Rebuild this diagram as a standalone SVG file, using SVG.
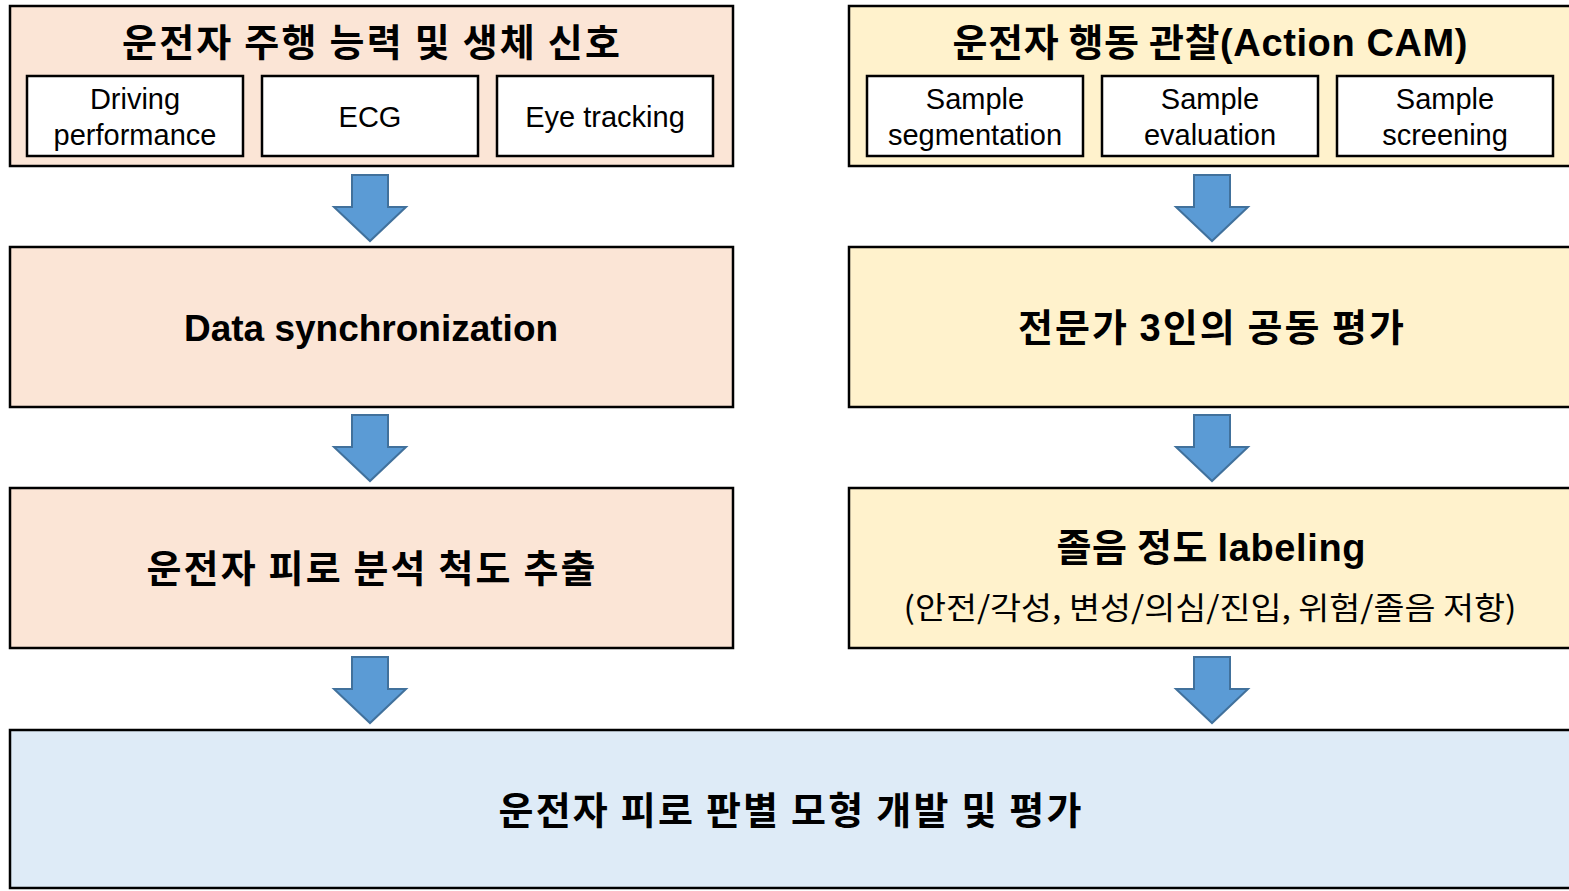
<svg xmlns="http://www.w3.org/2000/svg" width="1569" height="891" viewBox="0 0 1569 891">
<defs>
<style>
.box{stroke:#000;stroke-width:2.5}
.peach{fill:#FBE5D6}
.yellow{fill:#FFF2CC}
.blue{fill:#DEEBF7}
.inner{fill:#fff;stroke:#000;stroke-width:2.5}
.kt{font-family:"Noto Sans CJK KR","Liberation Sans",sans-serif;font-weight:bold;fill:#000;text-anchor:middle}
.kn{font-family:"Noto Sans CJK KR","Liberation Sans",sans-serif;font-weight:normal;fill:#000;text-anchor:middle}
.et{font-family:"Liberation Sans",Arial,sans-serif;fill:#000;text-anchor:middle}
.eb{font-family:"Liberation Sans",Arial,sans-serif;font-weight:bold;fill:#000;text-anchor:middle}
.lat{font-family:"Liberation Sans",Arial,sans-serif}
.arrow{fill:#5B9BD5;stroke:#41719C;stroke-width:2}
</style>
<path id="arr" d="M-18,0 H18 V32 H36 L0,66 L-36,32 H-18 Z"/>
</defs>
<rect width="1569" height="891" fill="#fff"/>

<g id="node-left-top">
<rect class="box peach" x="10" y="6" width="723" height="160"/>
<text class="kt" x="371" y="56" font-size="38" textLength="498" lengthAdjust="spacing">운전자 주행 능력 및 생체 신호</text>
<rect class="inner" x="27" y="76" width="216" height="80"/>
<text class="et" x="135" y="109" font-size="29">Driving</text>
<text class="et" x="135" y="145" font-size="29">performance</text>
<rect class="inner" x="262" y="76" width="216" height="80"/>
<text class="et" x="370" y="127" font-size="29">ECG</text>
<rect class="inner" x="497" y="76" width="216" height="80"/>
<text class="et" x="605" y="127" font-size="29">Eye tracking</text>
</g>

<g id="node-right-top">
<rect class="box yellow" x="849" y="6" width="725" height="160"/>
<text class="kt" x="1210" y="56" font-size="38" textLength="515" lengthAdjust="spacing">운전자 행동 관찰<tspan class="lat">(Action CAM)</tspan></text>
<rect class="inner" x="867" y="76" width="216" height="80"/>
<text class="et" x="975" y="109" font-size="29">Sample</text>
<text class="et" x="975" y="145" font-size="29">segmentation</text>
<rect class="inner" x="1102" y="76" width="216" height="80"/>
<text class="et" x="1210" y="109" font-size="29">Sample</text>
<text class="et" x="1210" y="145" font-size="29">evaluation</text>
<rect class="inner" x="1337" y="76" width="216" height="80"/>
<text class="et" x="1445" y="109" font-size="29">Sample</text>
<text class="et" x="1445" y="145" font-size="29">screening</text>
</g>

<g id="node-data-sync">
<rect class="box peach" x="10" y="247" width="723" height="160"/>
<text class="eb" x="371" y="341" font-size="37">Data synchronization</text>
</g>

<g id="node-expert">
<rect class="box yellow" x="849" y="247" width="725" height="160"/>
<text class="kt" x="1211" y="341" font-size="38" textLength="386" lengthAdjust="spacing">전문가 <tspan class="lat">3</tspan>인의 공동 평가</text>
</g>

<g id="node-fatigue-metric">
<rect class="box peach" x="10" y="488" width="723" height="160"/>
<text class="kt" x="371" y="582" font-size="38" textLength="449" lengthAdjust="spacing">운전자 피로 분석 척도 추출</text>
</g>

<g id="node-labeling">
<rect class="box yellow" x="849" y="488" width="725" height="160"/>
<text class="kt" x="1211" y="561" font-size="38" textLength="309" lengthAdjust="spacing">졸음 정도 <tspan class="lat">labeling</tspan></text>
<text class="kn" x="1210" y="619" font-size="31" textLength="613" lengthAdjust="spacingAndGlyphs">(안전/각성, 변성/의심/진입, 위험/졸음 저항)</text>
</g>

<g id="node-model">
<rect class="box blue" x="10" y="730" width="1564" height="158"/>
<text class="kt" x="790" y="824" font-size="38" textLength="583" lengthAdjust="spacing">운전자 피로 판별 모형 개발 및 평가</text>
</g>

<g id="connectors">
<use href="#arr" class="arrow" x="370" y="175"/>
<use href="#arr" class="arrow" x="370" y="415"/>
<use href="#arr" class="arrow" x="370" y="657"/>
<use href="#arr" class="arrow" x="1212" y="175"/>
<use href="#arr" class="arrow" x="1212" y="415"/>
<use href="#arr" class="arrow" x="1212" y="657"/>
</g>
</svg>
